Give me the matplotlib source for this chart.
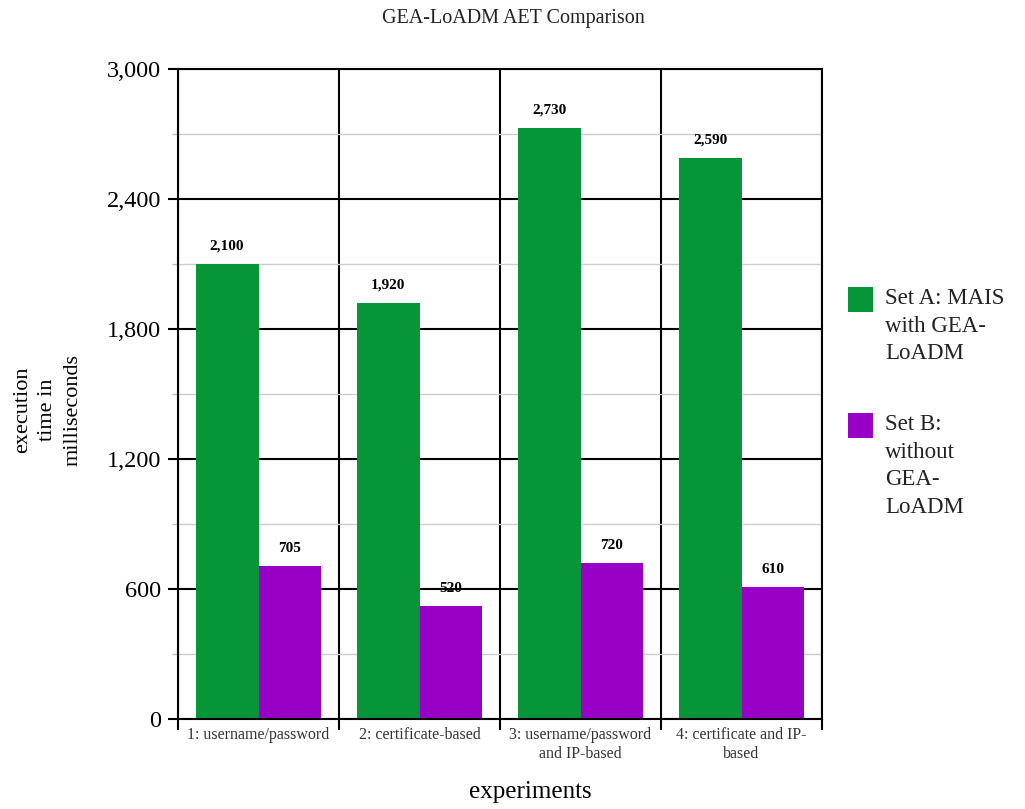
import matplotlib
matplotlib.use("Agg")
import matplotlib.pyplot as plt
from matplotlib.patches import Rectangle
import numpy as np

categories = ["1: username/password", "2: certificate-based",
              "3: username/password\nand IP-based", "4: certificate and IP-\nbased"]
set_a = [2100, 1920, 2730, 2590]
set_b = [705, 520, 720, 610]
series_names = ["Set A: MAIS\nwith GEA-\nLoADM", "Set B:\nwithout\nGEA-\nLoADM"]
colors = ["#079637", "#9900c6"]
yticks = [0, 600, 1200, 1800, 2400, 3000]

plt.rcParams['font.family'] = ['Liberation Serif', 'DejaVu Serif']

W, H = 1025, 809
fig = plt.figure(figsize=(W/100, H/100), dpi=100)
ax = fig.add_axes([178/W, 1-719/H, (822-178)/W, (719-69)/H])

n = len(categories)
x = np.arange(n) + 0.5
w = 0.39
ax.bar(x - w/2, set_a, w, color=colors[0], zorder=3)
ax.bar(x + w/2, set_b, w, color=colors[1], zorder=3)

for xi, v in zip(x - w/2, set_a):
    ax.annotate(f"{v:,}", (xi, v), xytext=(0, 8), textcoords="offset points",
                ha="center", va="bottom", fontsize=11, fontweight="bold", zorder=5)
for xi, v in zip(x + w/2, set_b):
    ax.annotate(f"{v:,}", (xi, v), xytext=(0, 8), textcoords="offset points",
                ha="center", va="bottom", fontsize=11, fontweight="bold", zorder=5)

ax.set_xlim(0, n)
ax.set_ylim(0, 3000)

# y ticks/grid
ax.set_yticks(yticks)
ax.set_yticklabels([f"{t:,}" for t in yticks], fontsize=17.5)
ax.set_yticks([300, 900, 1500, 2100, 2700], minor=True)
ax.tick_params(axis='y', which='major', length=7, width=1.5, color='black', pad=5)
ax.tick_params(axis='y', which='minor', length=4, width=1, color='#bbbbbb')
ax.grid(axis='y', which='major', color='black', linewidth=1.5, zorder=1)
ax.grid(axis='y', which='minor', color='#cccccc', linewidth=1, zorder=1)

# x ticks: boundaries as major, labels at centers as minor
ax.set_xticks(np.arange(n + 1))
ax.set_xticklabels([""] * (n + 1))
ax.set_xticks(x, minor=True)
ax.set_xticklabels(categories, minor=True, fontsize=11.5, color='#333333',
                   linespacing=1.2)
ax.tick_params(axis='x', which='major', length=8, width=1.5, color='black')
ax.tick_params(axis='x', which='minor', length=0, pad=6)
ax.grid(axis='x', which='major', color='black', linewidth=1.5, zorder=1)

for s in ["top", "right", "left", "bottom"]:
    ax.spines[s].set_linewidth(1.5)
    ax.spines[s].set_zorder(4)

fig.text(530/W, 1-792/H, "experiments", fontsize=18, ha="center", va="center")
fig.text(48/W, 1-410/H, "execution\ntime in\nmilliseconds", fontsize=16,
         ha="center", va="center", rotation=90, linespacing=1.45)
fig.text(513/W, 1-18/H, "GEA-LoADM AET Comparison", fontsize=14.5,
         ha="center", va="center", color='#222222')

# legend
box_tops = [287, 413]
for c, name, top in zip(colors, series_names, box_tops):
    fig.patches.append(Rectangle((848/W, 1-(top+25)/H), 25/W, 25/H,
                                 transform=fig.transFigure, facecolor=c,
                                 edgecolor='none'))
    fig.text(885/W, 1-(top+1)/H, name, fontsize=16.5, ha="left", va="top",
             linespacing=1.42, color='#222222')

fig.savefig("out.png", dpi=100)
